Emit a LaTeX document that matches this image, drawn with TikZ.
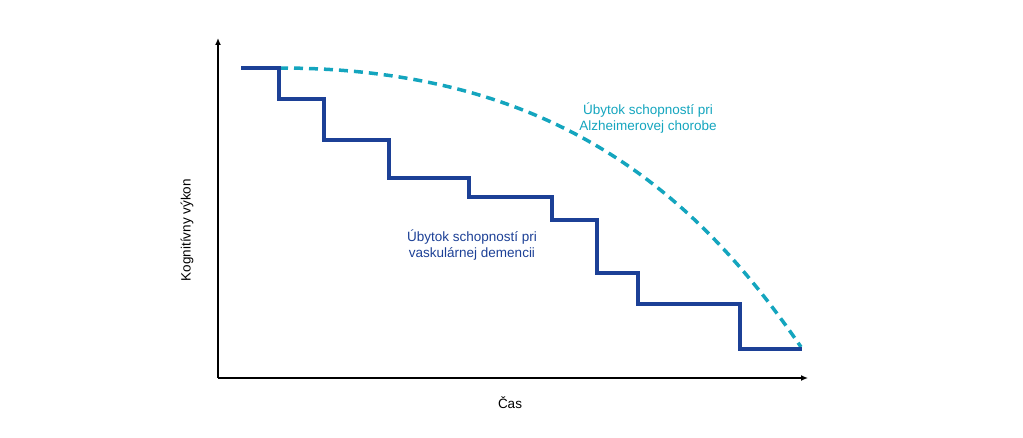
\documentclass[tikz,border=0pt]{standalone}
\usepackage{fontspec}
\setmainfont{Liberation Sans}
\definecolor{vasc}{RGB}{28,64,150}
\definecolor{alz}{RGB}{20,165,190}
\begin{document}
\begin{tikzpicture}[x=1pt,y=-1pt,
  axis/.style={line width=1.3pt,-{Latex[length=7pt,width=6pt]}},
  lbl/.style={font=\fontsize{13.5}{16.5}\selectfont,align=center}]
\useasboundingbox (0,0) rectangle (1023,438);
\usetikzlibrary{arrows.meta}
\coordinate (o) at (218,378);
\coordinate (ytop) at (218,38);
\coordinate (xend) at (808,378);
\draw[axis] (o) -- (ytop);
\draw[axis] (o) -- (xend);
\coordinate (s) at (279,68);
\coordinate (e) at (801,347);
\draw[alz,line width=3.5pt,dash pattern=on 9pt off 6pt] (s) .. controls (560,68) and (700,200) .. (e);
\draw[vasc,line width=3.5pt] (241,68) -- (279,68) |- (324,99) |- (389,140) |- (469,178) |- (552,197) |- (597,220) |- (638,273) |- (740,304) |- (802,349);
\node[lbl,text=alz] (alzl) at (648,118) {Úbytok schopností pri\\Alzheimerovej chorobe};
\node[lbl,text=vasc] (vascl) at (472,245) {Úbytok schopností pri\\vaskulárnej demencii};
\node[lbl,rotate=90] (yl) at (187,230) {Kognitívny výkon};
\node[lbl] (xl) at (510,403) {Čas};
\end{tikzpicture}
\end{document}
